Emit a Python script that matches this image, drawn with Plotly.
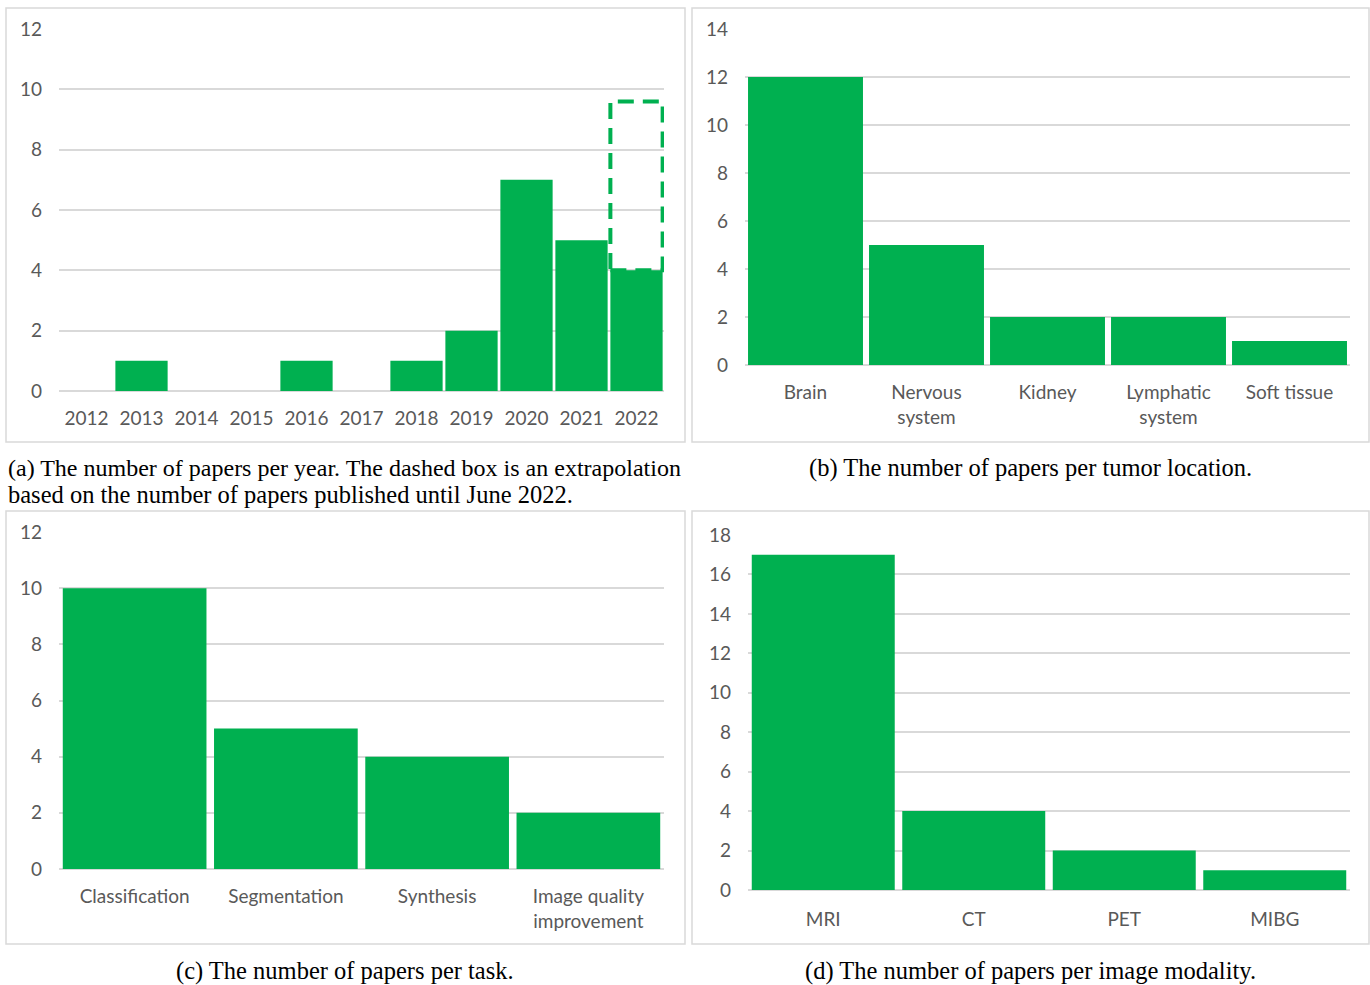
import plotly.graph_objects as go

# ---- data ----
years = [2012, 2013, 2014, 2015, 2016, 2017, 2018, 2019, 2020, 2021, 2022]
papers_per_year = [0, 1, 0, 0, 1, 0, 1, 2, 7, 5, 4]
extrapolated_2022 = 9.6

locations = ["Brain", "Nervous<br>system", "Kidney", "Lymphatic<br>system", "Soft tissue"]
papers_per_location = [12, 5, 2, 2, 1]

tasks = ["Classification", "Segmentation", "Synthesis", "Image quality<br>improvement"]
papers_per_task = [10, 5, 4, 2]

modalities = ["MRI", "CT", "PET", "MIBG"]
papers_per_modality = [17, 4, 2, 1]

captions = {
    "a1": "(a) The number of papers per year. The dashed box is an extrapolation",
    "a2": "based on the number of papers published until June 2022.",
    "b": "(b) The number of papers per tumor location.",
    "c": "(c) The number of papers per task.",
    "d": "(d) The number of papers per image modality.",
}

# ---- styling ----
W, H = 1370, 985
GREEN = "#00B050"
TICK = "#595959"
GRID = "#D9D9D9"
SANS = "Lato, 'Open Sans', sans-serif"
SERIF = "'Liberation Serif', 'Times New Roman', serif"
BAR_W = 0.95


def xdom(px0, px1):
    return [px0 / W, px1 / W]


def ydom(py_bottom, py_top):
    return [1 - py_bottom / H, 1 - py_top / H]


fig = go.Figure()

fig.add_trace(go.Bar(x=years, y=papers_per_year, width=BAR_W, marker_color=GREEN,
                     marker_line_width=0, xaxis="x", yaxis="y"))
fig.add_trace(go.Bar(x=locations, y=papers_per_location, width=BAR_W, marker_color=GREEN,
                     marker_line_width=0, xaxis="x2", yaxis="y2"))
fig.add_trace(go.Bar(x=tasks, y=papers_per_task, width=BAR_W, marker_color=GREEN,
                     marker_line_width=0, xaxis="x3", yaxis="y3"))
fig.add_trace(go.Bar(x=modalities, y=papers_per_modality, width=BAR_W, marker_color=GREEN,
                     marker_line_width=0, xaxis="x4", yaxis="y4"))

yaxis_common = dict(showgrid=True, gridcolor=GRID, gridwidth=1.5, zeroline=True,
                    zerolinecolor=GRID, zerolinewidth=1.5, showline=False, ticks="",
                    tickfont=dict(family=SANS, size=19, color=TICK), ticklabelstandoff=16,
                    automargin=False, fixedrange=True)
xaxis_common = dict(showgrid=False, zeroline=False, showline=False, ticks="",
                    tickfont=dict(family=SANS, size=19, color=TICK), ticklabelstandoff=14,
                    automargin=False, fixedrange=True)

fig.update_layout(
    width=W, height=H, margin=dict(l=0, r=0, t=0, b=0, autoexpand=False),
    paper_bgcolor="white", plot_bgcolor="white", showlegend=False,
    xaxis=dict(xaxis_common, domain=xdom(59, 664), anchor="y", range=[2011.5, 2022.5],
               tickmode="array", tickvals=years, ticktext=[str(y) for y in years]),
    yaxis=dict(yaxis_common, domain=ydom(391, 29), anchor="x", range=[0, 12], dtick=2),
    xaxis2=dict(xaxis_common, domain=xdom(745, 1350), anchor="y2", range=[-0.5, 4.5]),
    yaxis2=dict(yaxis_common, domain=ydom(365, 29), anchor="x2", range=[0, 14], dtick=2),
    xaxis3=dict(xaxis_common, domain=xdom(59, 664), anchor="y3", range=[-0.5, 3.5]),
    yaxis3=dict(yaxis_common, domain=ydom(869, 532), anchor="x3", range=[0, 12], dtick=2),
    xaxis4=dict(xaxis_common, domain=xdom(748, 1350), anchor="y4", range=[-0.5, 3.5],
                ticklabelstandoff=16),
    yaxis4=dict(yaxis_common, domain=ydom(890, 535), anchor="x4", range=[0, 18], dtick=2),
)

# dashed box: extrapolated count for the final year
fig.add_shape(type="rect", xref="x", yref="y",
              x0=years[-1] - BAR_W / 2, x1=years[-1] + BAR_W / 2,
              y0=papers_per_year[-1], y1=extrapolated_2022,
              line=dict(color=GREEN, width=4, dash="16px,9px"), fillcolor="rgba(0,0,0,0)")

# panel frames
for (x0, y0, x1, y1) in [(6, 8, 685, 442), (692, 8, 1369, 442),
                         (6, 511, 685, 944), (692, 511, 1369, 944)]:
    fig.add_shape(type="rect", xref="paper", yref="paper",
                  x0=x0 / W, x1=x1 / W, y0=1 - y1 / H, y1=1 - y0 / H,
                  line=dict(color=GRID, width=1.5), layer="below")

# captions
def caption(text, x, y, anchor, size=24.5):
    fig.add_annotation(text=text, x=x / W, y=1 - y / H, xref="paper", yref="paper",
                       xanchor=anchor, yanchor="middle", showarrow=False,
                       font=dict(family=SERIF, size=size, color="black"))

caption(captions["a1"], 6, 468, "left", size=24)
caption(captions["a2"], 6, 494, "left")
caption(captions["b"], 1030, 468, "center")
caption(captions["c"], 345, 971, "center")
caption(captions["d"], 1030, 971, "center")

fig.write_html("out.html")
